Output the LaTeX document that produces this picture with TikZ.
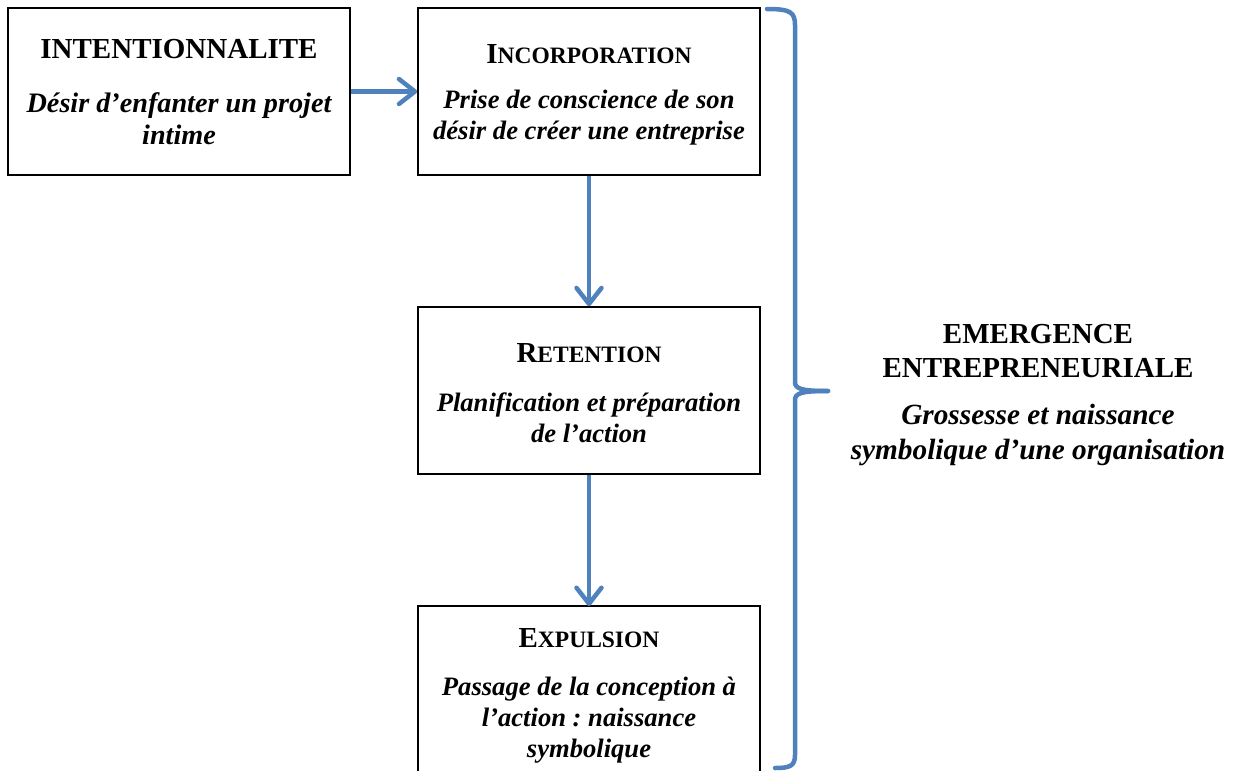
\documentclass[tikz,border=0pt]{standalone}
\usepackage{fontspec}
\setmainfont{Liberation Serif}
\usetikzlibrary{arrows.meta}
\definecolor{wblue}{RGB}{79,129,189}
\frenchspacing
\newcommand{\ttl}{\fontsize{29}{34}\selectfont\bfseries}
\newcommand{\dsc}{\fontsize{26.6}{31}\selectfont\bfseries\itshape}
\newcommand{\sck}[2]{{\fontsize{29}{34}\selectfont\bfseries #1\fontsize{23.5}{28}\selectfont #2}}
\begin{document}
\begin{tikzpicture}[x=1pt,y=-1pt,
  box/.style={draw=black,line width=1.6pt,inner sep=0pt,minimum width=342pt,minimum height=167pt},
  txt/.style={inner sep=0pt,align=center},
  dtxt/.style={inner sep=0pt,align=center,font=\dsc},
  flow/.style={draw=wblue,line width=4.5pt,-{Straight Barb[length=16pt,width=25pt,round]}},
  brace/.style={draw=wblue,line width=4.5pt,line cap=round}]
\useasboundingbox (0,0) rectangle (1235,771);
% boxes
\node[box] (A) at (179,91.5) {};
\node[box] (B) at (589,91.5) {};
\node[box] (C) at (589,390.5) {};
\draw[line width=1.6pt] (418,790) coordinate (dbl) -- (418,606) coordinate (dtl) -- (760,606) coordinate (dtr) -- (760,790) coordinate (dbr);
\coordinate (D) at (589,606);
% texts
\node[txt,font=\ttl] (At) at (179,49) {INTENTIONNALITE};
\node[txt,font={\fontsize{28.2}{32}\selectfont\bfseries\itshape}] (Ad) at (179,118.5) {D\'esir d’enfanter un projet\\intime};
\node[txt] (Bt) at (589,54) {\sck{I}{NCORPORATION}};
\node[dtxt] (Bd) at (589,118) {Prise de conscience de son\\d\'esir de cr\'eer une entreprise};
\node[txt] (Ct) at (589,353) {\sck{R}{ETENTION}};
\node[dtxt] (Cd) at (589,418) {Planification et pr\'eparation\\de l’action};
\node[txt] (Dt) at (589,638) {\sck{E}{XPULSION}};
\node[dtxt] (Dd) at (589,720) {Passage de la conception \`a\\l’action : naissance\\symbolique};
\node[txt,font={\fontsize{29}{34}\selectfont\bfseries}] (Et) at (1038,351) {EMERGENCE\\ENTREPRENEURIALE};
\node[txt,font={\fontsize{29.3}{35}\selectfont\bfseries\itshape}] (Ed) at (1038,435) {Grossesse et naissance\\symbolique d’une organisation};
% arrows
\draw[flow] (A.east) -- (B.west);
\draw[flow] (B.south) -- (C.north);
\draw[flow] (C.south) -- (D);
% brace
\draw[brace] (767,9) .. controls (790,9) and (795,12) .. (795,25) -- (795,382)
  .. controls (795,389) and (802,391) .. (828,391);
\draw[brace] (828,391) .. controls (802,391) and (795,393) .. (795,400) -- (795,755)
  .. controls (795,766) and (790,768) .. (775,768);
\end{tikzpicture}
\end{document}
